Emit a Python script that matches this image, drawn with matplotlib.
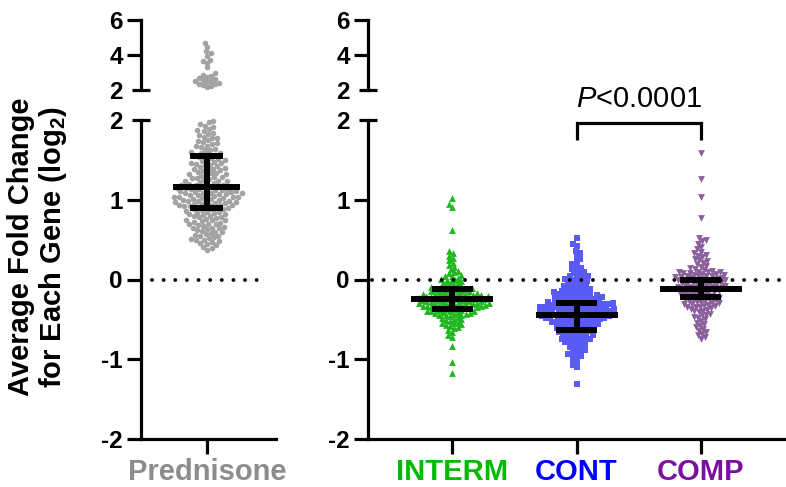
import numpy as np
import matplotlib
matplotlib.use('Agg')
import matplotlib.pyplot as plt

plt.rcParams['font.family'] = ['Liberation Sans', 'DejaVu Sans']
plt.rcParams['mathtext.fontset'] = 'custom'
plt.rcParams['mathtext.rm'] = 'Liberation Sans'
plt.rcParams['mathtext.it'] = 'Liberation Sans:italic'
plt.rcParams['mathtext.bf'] = 'Liberation Sans:bold'
plt.rcParams['mathtext.default'] = 'regular'

# ---------------- data (log2 fold change per gene) ----------------
prednisone = [
    4.68, 4.45, 4.21, 4.10, 3.97, 3.74, 3.64, 3.56, 3.30, 2.96, 2.88, 2.80, 2.74, 2.69, 2.63,
    2.58, 2.53, 2.49, 2.45, 2.41, 2.37, 2.33, 2.28, 2.23, 2.17,
    1.99, 1.97, 1.95, 1.93, 1.91, 1.89, 1.87, 1.86, 1.84, 1.82, 1.81, 1.79, 1.78, 1.77, 1.75,
    1.74, 1.72, 1.71, 1.70, 1.68, 1.67, 1.66, 1.64, 1.63, 1.62, 1.60, 1.59, 1.58, 1.57, 1.56, 1.55,
    1.54, 1.53, 1.52, 1.51, 1.50, 1.49, 1.48, 1.47, 1.46, 1.46, 1.45, 1.44, 1.43, 1.42, 1.41, 1.40,
    1.39, 1.38, 1.38, 1.37, 1.36, 1.35, 1.34, 1.33, 1.32, 1.32, 1.31, 1.30, 1.29, 1.28, 1.27, 1.27,
    1.26, 1.25, 1.24, 1.23, 1.23, 1.22, 1.21, 1.20, 1.20, 1.19, 1.18, 1.18, 1.17, 1.17, 1.16, 1.16,
    1.15, 1.15, 1.14, 1.14, 1.13, 1.13, 1.12, 1.12, 1.11, 1.11, 1.10, 1.10, 1.09, 1.09, 1.08, 1.08,
    1.07, 1.07, 1.06, 1.06, 1.05, 1.05, 1.04, 1.04, 1.03, 1.03, 1.02, 1.02, 1.01, 1.01, 1.00, 1.00,
    0.99, 0.99, 0.98, 0.98, 0.97, 0.97, 0.96, 0.96, 0.95, 0.95, 0.94, 0.94, 0.93, 0.93, 0.92, 0.92,
    0.91, 0.91, 0.90, 0.90, 0.89, 0.88, 0.88, 0.87, 0.86, 0.85, 0.85, 0.84, 0.83, 0.82, 0.82, 0.81,
    0.80, 0.79, 0.78, 0.78, 0.77, 0.76, 0.75, 0.74, 0.74, 0.73, 0.72, 0.71, 0.70, 0.70, 0.69, 0.68,
    0.67, 0.66, 0.65, 0.65, 0.64, 0.63, 0.62, 0.61,
    0.60, 0.59, 0.58, 0.57, 0.56, 0.55, 0.54, 0.53, 0.52, 0.51, 0.50, 0.49, 0.48, 0.47, 0.46, 0.45,
    0.43, 0.41, 0.39, 0.37]

interm = [
    1.02, 0.95, 0.91, 0.62, 0.36, 0.33, 0.30,
    0.27, 0.24, 0.21, 0.18, 0.16, 0.13, 0.11, 0.09,
    0.08, 0.06, 0.05, 0.04, 0.02, 0.01, 0.00, -0.01, -0.02, -0.03, -0.04, -0.05, -0.06, -0.07,
    -0.08, -0.09,
    -0.10, -0.10, -0.11, -0.11, -0.12, -0.12, -0.13, -0.13, -0.14, -0.14, -0.15, -0.15, -0.16,
    -0.16, -0.17, -0.17, -0.18, -0.18, -0.18, -0.19, -0.19, -0.19, -0.20, -0.20, -0.20, -0.21,
    -0.21, -0.21, -0.22, -0.22, -0.22, -0.23, -0.23, -0.23, -0.24, -0.24, -0.24, -0.25, -0.25,
    -0.25, -0.26, -0.26, -0.26, -0.27, -0.27, -0.27, -0.28, -0.28, -0.28, -0.29, -0.29, -0.29,
    -0.30, -0.30, -0.30, -0.31, -0.31, -0.31, -0.32, -0.32, -0.32, -0.33, -0.33, -0.33, -0.34,
    -0.34, -0.34, -0.35, -0.35, -0.35, -0.36, -0.36,
    -0.37, -0.37, -0.38, -0.38, -0.39, -0.39, -0.40, -0.40, -0.41, -0.41, -0.42, -0.42, -0.43,
    -0.43, -0.44, -0.44, -0.45, -0.46, -0.47,
    -0.48, -0.49, -0.50, -0.51, -0.52, -0.53, -0.54, -0.55, -0.56, -0.57, -0.58, -0.59,
    -0.61, -0.63, -0.66, -0.69, -0.72, -0.84, -1.03, -1.17]

cont = [
    0.52, 0.45, 0.42, 0.36, 0.33, 0.29, 0.26, 0.23,
    0.19, 0.17, 0.15, 0.13, 0.11, 0.09, 0.08,
    0.06, 0.05, 0.04, 0.03, 0.02, 0.01, 0.00, -0.01, -0.02, -0.03, -0.04, -0.05, -0.06, -0.07,
    -0.08, -0.09, -0.10, -0.11, -0.12, -0.12, -0.13, -0.14, -0.15, -0.15, -0.16,
    -0.17, -0.17, -0.18, -0.18, -0.19, -0.19, -0.20, -0.20, -0.21, -0.21, -0.22, -0.22, -0.23,
    -0.23, -0.24, -0.24, -0.25, -0.25, -0.26, -0.26, -0.27, -0.27, -0.28, -0.28, -0.29, -0.29,
    -0.29, -0.30, -0.30, -0.30, -0.31, -0.31, -0.31, -0.32, -0.32, -0.32, -0.33, -0.33, -0.33,
    -0.34, -0.34, -0.34, -0.35, -0.35, -0.35, -0.36, -0.36, -0.36, -0.37, -0.37, -0.37, -0.38,
    -0.38, -0.38, -0.39, -0.39, -0.39, -0.40, -0.40, -0.40, -0.41, -0.41, -0.41, -0.42, -0.42,
    -0.42, -0.43, -0.43, -0.43, -0.44, -0.44, -0.44, -0.45, -0.45, -0.45, -0.46, -0.46, -0.46,
    -0.47, -0.47, -0.47, -0.48, -0.48, -0.48, -0.49, -0.49, -0.49, -0.50, -0.50, -0.51, -0.51,
    -0.52, -0.52, -0.53, -0.53, -0.54, -0.54, -0.55, -0.55, -0.56, -0.56, -0.57, -0.57, -0.58,
    -0.59, -0.59, -0.60, -0.60, -0.61, -0.62, -0.62, -0.63, -0.64, -0.64, -0.65, -0.66, -0.66,
    -0.67, -0.68, -0.68, -0.69, -0.70, -0.71, -0.71, -0.72, -0.73, -0.74, -0.74, -0.75, -0.76,
    -0.77, -0.78, -0.79, -0.80, -0.81, -0.82,
    -0.84, -0.85, -0.86, -0.88, -0.89, -0.90, -0.92, -0.93, -0.95, -0.96,
    -0.98, -1.01, -1.04, -1.07, -1.10, -1.31]

comp = [
    1.59, 1.26, 1.03, 0.77,
    0.52, 0.50, 0.48, 0.45, 0.41, 0.38,
    0.35, 0.33, 0.31, 0.30, 0.28, 0.26, 0.24, 0.23, 0.21, 0.19, 0.17, 0.16, 0.14, 0.13, 0.12,
    0.11, 0.10, 0.10, 0.09, 0.09, 0.08, 0.08, 0.07, 0.07, 0.06, 0.06, 0.05, 0.05, 0.04, 0.04,
    0.03, 0.03, 0.02, 0.02, 0.01, 0.01, 0.00, 0.00, 0.00, -0.01, -0.01, -0.02, -0.02, -0.03,
    -0.03, -0.04, -0.04, -0.05, -0.05, -0.06, -0.06, -0.07, -0.07, -0.08, -0.08, -0.09, -0.09,
    -0.10, -0.10, -0.11, -0.11, -0.12, -0.12, -0.13, -0.13, -0.14,
    -0.15, -0.15, -0.16, -0.17, -0.17, -0.18, -0.19, -0.19, -0.20, -0.21, -0.21, -0.22, -0.23,
    -0.23, -0.24, -0.25, -0.25, -0.26, -0.27, -0.27, -0.28, -0.29, -0.29, -0.30, -0.31, -0.31,
    -0.32, -0.33, -0.33, -0.34, -0.35, -0.35, -0.36, -0.37, -0.38, -0.39,
    -0.40, -0.41, -0.43, -0.44, -0.45, -0.47, -0.48, -0.50, -0.52, -0.54, -0.56, -0.58, -0.60,
    -0.62, -0.64, -0.66, -0.68, -0.70, -0.72, -0.74]

groups_right = ['INTERM', 'CONT', 'COMP']
right_values = [interm, cont, comp]

# summary bars: median with interquartile range
pred_median, pred_q1, pred_q3 = 1.16, 0.90, 1.55
right_median = [-0.25, -0.44, -0.12]
right_q1 = [-0.375, -0.63, -0.22]
right_q3 = [-0.125, -0.29, 0.00]

p_text = r'$\mathit{P}$<0.0001'

# ---------------- style ----------------
W, H = 786, 487
LW = 2.3
point_colors = ['#1fb81f', '#5a5af7', '#8b5e9c']
label_colors = ['#00bb00', '#0000ff', '#7b0fa0']
markers = ['^', 's', 'v']
msize = [24, 15, 24]
swarm_d = [4.35, 4.5, 4.4]
pred_point_color = '#a3a3a3'
pred_label_color = '#8c8c8c'

fig = plt.figure(figsize=(W / 100, H / 100), dpi=100)


def rect(x0, x1, ytop, ybot):
    return [x0 / W, 1 - ybot / H, (x1 - x0) / W, (ybot - ytop) / H]


axLb = fig.add_axes(rect(141, 276, 120, 439))
axLt = fig.add_axes(rect(141, 276, 20, 90))
axRb = fig.add_axes(rect(368, 786, 120, 439))
axRt = fig.add_axes(rect(368, 786, 20, 90))

xlimL = (-0.953, 0.997)
xlimR = (-0.675, 2.683)
pxL = 135 / (xlimL[1] - xlimL[0])
pxR = 418 / (xlimR[1] - xlimR[0])
py_bot = 319 / 4.0
py_top = 70 / 4.0


def swarm_offsets(vals, ypx, xpx, d):
    vals = np.asarray(vals, float)
    order = np.argsort(vals, kind='stable')
    px, py = [], []
    out = np.zeros(len(vals))
    for k, i in enumerate(order):
        y = vals[i] * ypx
        nx = np.array(px)
        ny = np.array(py)
        cand = [0.0]
        if len(px):
            m = np.abs(ny - y) < d
            nx, ny = nx[m], ny[m]
            for a, b in zip(nx, ny):
                dx = np.sqrt(max(d * d - (b - y) ** 2, 0.0))
                cand += [a + dx, a - dx]
        sgn = 1 if k % 2 == 0 else -1
        cand = sorted(cand, key=lambda c: (round(abs(c), 3), sgn * c))
        chosen = 0.0
        for c in cand:
            if len(nx) == 0 or np.all((nx - c) ** 2 + (ny - y) ** 2 >= d * d - 1e-6):
                chosen = c
                break
        px.append(chosen)
        py.append(y)
        out[i] = chosen / xpx
    return out


# ---------------- left panel ----------------
pv = np.array(prednisone)
low = pv[pv <= 2.0]
high = pv[pv > 2.0]
axLb.scatter(swarm_offsets(low, py_bot, pxL, 5.0), low, s=16, marker='o',
             color=pred_point_color, linewidths=0, zorder=2, clip_on=False)
axLt.scatter(swarm_offsets(high, py_top, pxL, 4.4), high, s=16, marker='o',
             color=pred_point_color, linewidths=0, zorder=2, clip_on=False)

DOT = dict(color='k', lw=2.8, linestyle=(0, (0.01, 2.98)), dash_capstyle='round', zorder=3)
axLb.plot([-0.8, 0.87], [0, 0], **DOT)


def summary(ax, x, med, q1, q3, hw, cw):
    kw = dict(color='k', lw=4.3, solid_capstyle='butt', zorder=4)
    ax.plot([x - hw, x + hw], [med, med], **kw)
    ax.plot([x - cw, x + cw], [q1, q1], **kw)
    ax.plot([x - cw, x + cw], [q3, q3], **kw)
    ax.plot([x, x], [q1, q3], **kw)


summary(axLb, 0, pred_median, pred_q1, pred_q3, 33.5 / pxL, 16.5 / pxL)

# ---------------- right panel ----------------
for i, vals in enumerate(right_values):
    v = np.array(vals)
    axRb.scatter(i + swarm_offsets(v, py_bot, pxR, swarm_d[i]), v, s=msize[i], marker=markers[i],
                 color=point_colors[i], linewidths=0, zorder=2, clip_on=False)
    summary(axRb, i, right_median[i], right_q1[i], right_q3[i], 41 / pxR, 20.5 / pxR)

axRb.plot([xlimR[0] + 0.03, xlimR[1]], [0, 0], **DOT)

# significance bracket
axRb.plot([1, 1, 2, 2], [1.75, 1.96, 1.96, 1.75], color='k', lw=LW, clip_on=False,
          solid_joinstyle='miter', solid_capstyle='butt', zorder=5)
axRb.text(1.5, 2.16, p_text, ha='center', va='baseline', fontsize=21, clip_on=False)

# ---------------- axes styling ----------------
for ax, xl in [(axLb, xlimL), (axLt, xlimL), (axRb, xlimR), (axRt, xlimR)]:
    ax.set_xlim(*xl)
    ax.patch.set_alpha(0)
    for s in ['top', 'right']:
        ax.spines[s].set_visible(False)
    for s in ['left', 'bottom']:
        ax.spines[s].set_linewidth(LW)

for ax in (axLb, axRb):
    ax.set_ylim(-2, 2)
    ax.set_yticks([-2, -1, 0, 1])
    ax.set_yticklabels(['-2', '-1', '0', '1'])
    ax.set_yticks([2], minor=True)
    ax.set_yticklabels(['2'], minor=True)

for ax in (axLt, axRt):
    ax.set_ylim(2, 6)
    ax.spines['bottom'].set_visible(False)
    ax.set_xticks([])
    ax.set_yticks([4, 6])
    ax.set_yticklabels(['4', '6'])
    ax.set_yticks([2], minor=True)
    ax.set_yticklabels(['2'], minor=True)

for ax in (axLb, axLt, axRb, axRt):
    ax.tick_params(axis='y', which='major', direction='out', length=10, width=LW,
                   labelsize=17.5, pad=3)
    ax.tick_params(axis='y', which='minor', direction='inout', length=13, width=LW,
                   labelsize=17.5, pad=6.5)
    for lbl in ax.get_yticklabels(which='both'):
        lbl.set_fontweight('bold')

axLb.set_xticks([0])
axLb.set_xticklabels(['Prednisone'])
axRb.set_xticks([0, 1, 2])
axRb.set_xticklabels(groups_right)
for ax in (axLb, axRb):
    ax.tick_params(axis='x', direction='out', length=11, width=LW, labelsize=21, pad=3)
for lbl in axLb.get_xticklabels():
    lbl.set_fontweight('bold')
    lbl.set_color(pred_label_color)
for lbl, c in zip(axRb.get_xticklabels(), label_colors):
    lbl.set_fontweight('bold')
    lbl.set_color(c)

fig.text(38 / W, 1 - 247 / H, 'Average Fold Change\nfor Each Gene (log$_2$)', rotation=90,
         ha='center', va='center', fontsize=21, fontweight='bold', linespacing=1.05,
         multialignment='center')

fig.savefig('out.png', dpi=100)
